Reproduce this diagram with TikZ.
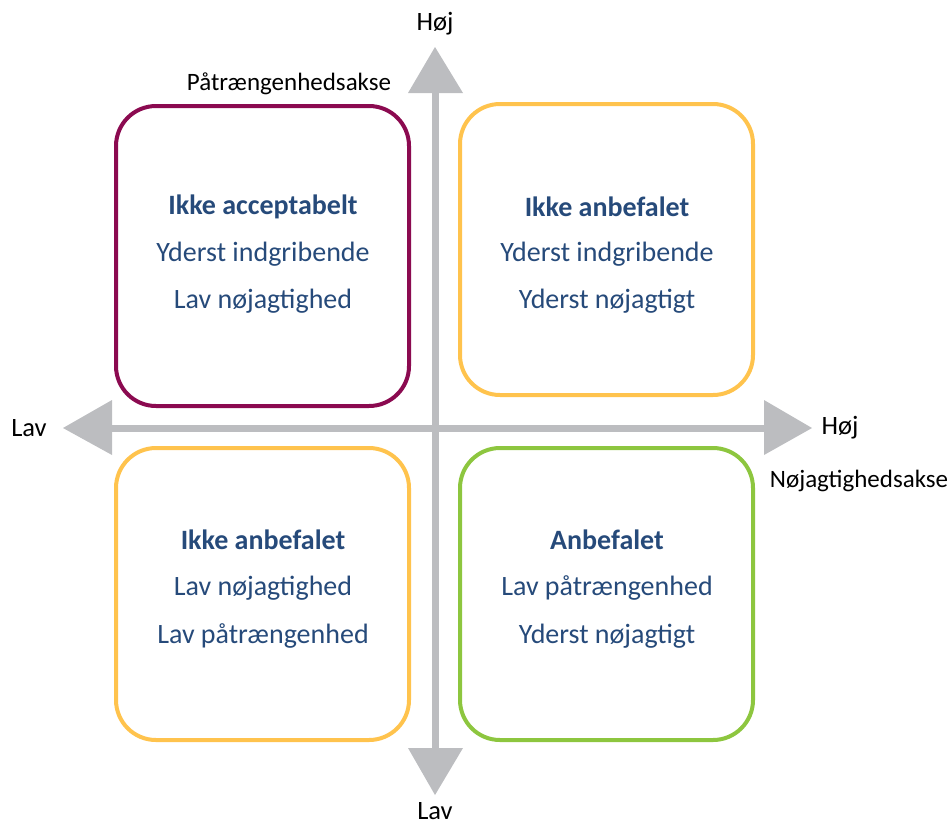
\documentclass[tikz,border=0pt]{standalone}
\usepackage{fontspec}
\setmainfont{Carlito}
\definecolor{axisgray}{HTML}{BCBDC0}
\definecolor{plum}{HTML}{8B0A50}
\definecolor{amber}{HTML}{FFC34D}
\definecolor{leaf}{HTML}{8DC63F}
\definecolor{navy}{HTML}{264A7A}
\begin{document}
\begin{tikzpicture}[x=1pt,y=-1pt,
  quad/.style={draw, line width=4pt, rounded corners=40pt},
  qtext/.style={text=navy, font=\fontsize{28}{32}\selectfont, align=center},
  qtitle/.style={qtext, font=\fontsize{28}{32}\selectfont\bfseries},
  axlabel/.style={font=\fontsize{26.5}{30}\selectfont, text=black},
  axname/.style={font=\fontsize{25}{29}\selectfont, text=black},
  shaft/.style={draw=axisgray, line width=7pt},
  head/.style={fill=axisgray}]
\useasboundingbox (0,0) rectangle (952,825);
% axes
\coordinate (top) at (435,47);
\coordinate (bot) at (435,795);
\coordinate (lft) at (63,428);
\coordinate (rgt) at (812,428);
\draw[shaft] (435,92) -- (435,750);
\draw[shaft] (110,428) -- (766,428);
\fill[head] (top) -- (408,93) -- (463,93) -- cycle;
\fill[head] (bot) -- (408,748) -- (463,748) -- cycle;
\fill[head] (lft) -- (112,400) -- (112,455) -- cycle;
\fill[head] (rgt) -- (764,400) -- (764,455) -- cycle;
% axis labels
\node[axlabel] (hojtop) at (435,24) {Høj};
\node[axlabel] (lavbot) at (435,811) {Lav};
\node[axlabel] (lavl) at (29,428) {Lav};
\node[axlabel] (hojr) at (840,428) {Høj};
\node[axname] (pax) at (289,84) {Påtrængenhedsakse};
\node[axname] (nax) at (859,481) {Nøjagtighedsakse};
% quadrants
\draw[quad, draw=plum] (116,106) rectangle (409,406);
\draw[quad, draw=amber] (460,104) rectangle (753,395);
\draw[quad, draw=amber] (116,448) rectangle (409,740);
\draw[quad, draw=leaf] (460,448) rectangle (753,740);
% texts
\node[qtitle] (t1) at (263,207) {Ikke acceptabelt};
\node[qtext] (t1a) at (263,254) {Yderst indgribende};
\node[qtext] (t1b) at (263,301) {Lav nøjagtighed};
\node[qtitle] (t2) at (607,207) {Ikke anbefalet};
\node[qtext] (t2a) at (607,254) {Yderst indgribende};
\node[qtext] (t2b) at (607,301) {Yderst nøjagtigt};
\node[qtitle] (t3) at (263,540) {Ikke anbefalet};
\node[qtext] (t3a) at (263,588) {Lav nøjagtighed};
\node[qtext] (t3b) at (263,636) {Lav påtrængenhed};
\node[qtitle] (t4) at (607,540) {Anbefalet};
\node[qtext] (t4a) at (607,588) {Lav påtrængenhed};
\node[qtext] (t4b) at (607,636) {Yderst nøjagtigt};
\end{tikzpicture}
\end{document}
